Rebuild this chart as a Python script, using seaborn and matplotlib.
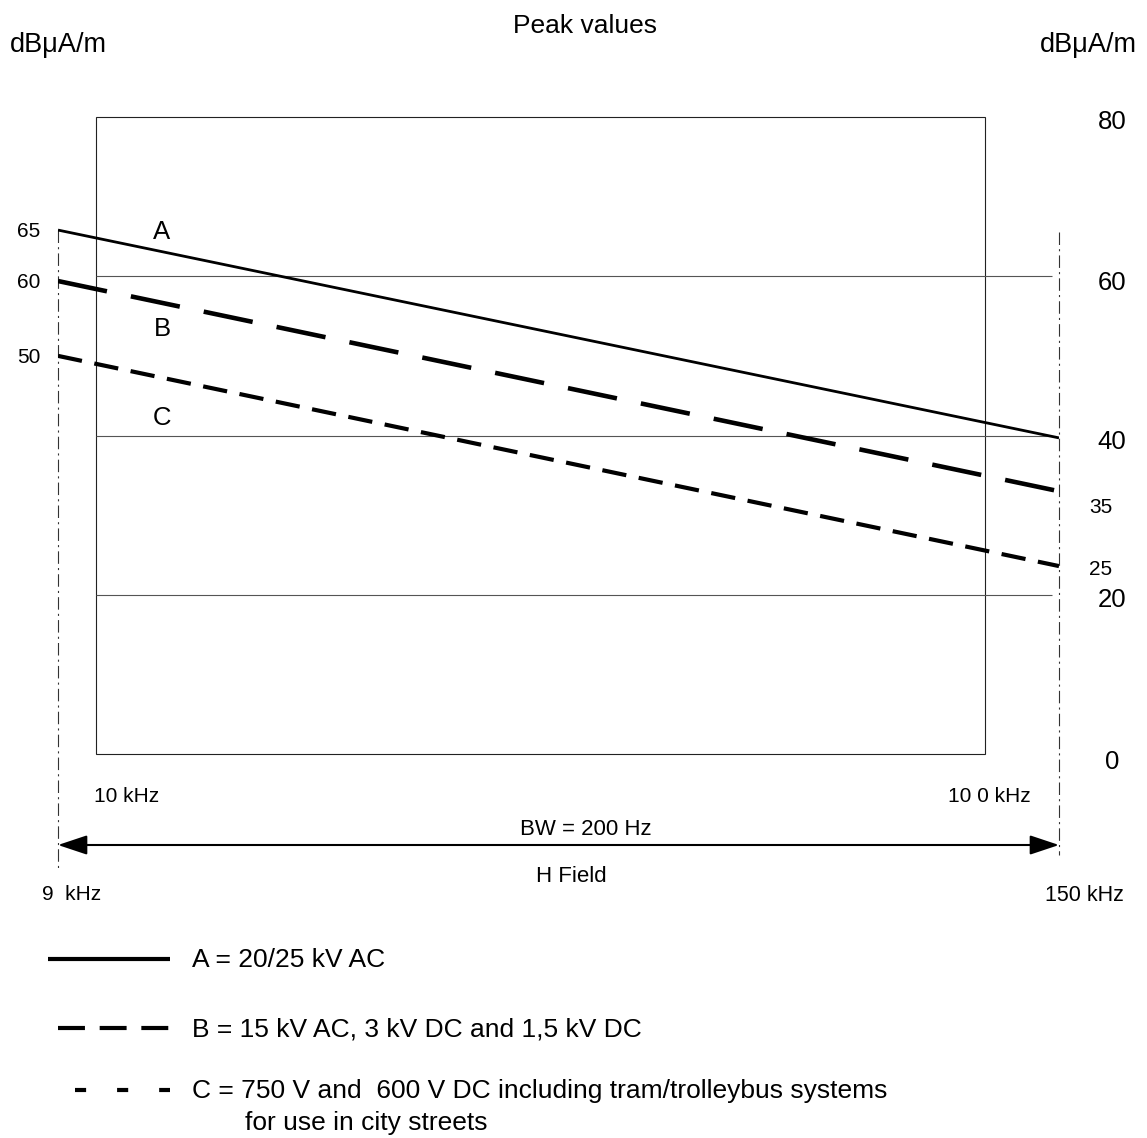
import numpy as np
import pandas as pd
import matplotlib
matplotlib.use("Agg")
import matplotlib.pyplot as plt
import seaborn as sns
from matplotlib.lines import Line2D
from matplotlib.patches import Rectangle, FancyArrowPatch

# ---------------- data ----------------
freq_khz = [9, 150]                 # start / end frequency of the limit lines
line_A = [65.8, 39.7]               # dBuA/m
line_B = [59.4, 33.0]
line_C = [50.0, 23.6]
series_names = ["A", "B", "C"]
box_freq = [10, 100]                # kHz
box_level = [0, 80]                 # dBuA/m
grid_levels = [20, 40, 60]
right_major = [80, 60, 40, 20, 0]
right_minor = ["35", "25"]
left_labels = ["65", "60", "50"]
freq_labels = ["10 kHz", "10 0 kHz", "9  kHz", "150 kHz"]
legend_texts = ["A = 20/25 kV AC",
                "B = 15 kV AC, 3 kV DC and 1,5 kV DC",
                "C = 750 V and  600 V DC including tram/trolleybus systems"]
legend_cont = "for use in city streets"

# ---------------- style ----------------
sns.set_theme(style="white")
plt.rcParams["font.family"] = ["Liberation Sans", "DejaVu Sans"]
plt.rcParams["lines.scale_dashes"] = False

W, H = 1147, 1138
fig = plt.figure(figsize=(W / 100, H / 100), dpi=100)
fig.patch.set_facecolor("white")

# axes region in pixels
L, R, T, B = 58, 1059, 117, 754
ax = fig.add_axes([L / W, 1 - B / H, (R - L) / W, (B - T) / H])

df = pd.DataFrame({
    "freq": freq_khz * 3,
    "level": line_A + line_B + line_C,
    "series": [s for s in series_names for _ in freq_khz],
})
sns.lineplot(data=df, x="freq", y="level", style="series",
             dashes={"A": "", "B": (36, 17.6), "C": (17.6, 9.1)},
             color="black", legend=False, ax=ax, zorder=3)
for ln, lw in zip(ax.lines, [2.0, 3.3, 3.0]):
    ln.set_linewidth(lw)
    ln.set_dash_capstyle("butt")
    ln.set_solid_capstyle("butt")

# non-uniform frequency scale of the original diagram (not to scale)
_lf = np.log10([9, 10, 100, 150])
_u = np.array([0, 38, 927, 1001], float)
_s0 = (_u[1] - _u[0]) / (_lf[1] - _lf[0])
_s1 = (_u[-1] - _u[-2]) / (_lf[-1] - _lf[-2])


def fwd(f):
    lf = np.log10(np.maximum(np.asarray(f, float), 1e-9))
    out = np.interp(lf, _lf, _u)
    out = np.where(lf < _lf[0], _u[0] + (lf - _lf[0]) * _s0, out)
    out = np.where(lf > _lf[-1], _u[-1] + (lf - _lf[-1]) * _s1, out)
    return out


def inv(u):
    u = np.asarray(u, float)
    lf = np.interp(u, _u, _lf)
    lf = np.where(u < _u[0], _lf[0] + (u - _u[0]) / _s0, lf)
    lf = np.where(u > _u[-1], _lf[-1] + (u - _u[-1]) / _s1, lf)
    return 10 ** lf


ax.set_xscale("function", functions=(fwd, inv))
ax.set_xlim(freq_khz[0], freq_khz[1])
ax.set_ylim(box_level[0], box_level[1])
ax.set_axis_off()

# frame box 10 kHz .. 100 kHz
ax.add_patch(Rectangle((box_freq[0], box_level[0]), box_freq[1] - box_freq[0],
                       box_level[1] - box_level[0], fill=False,
                       edgecolor="#222222", lw=0.8, clip_on=False, zorder=1))
# horizontal reference lines
ax.hlines(grid_levels, box_freq[0], 144, colors="#555555", lw=0.8, zorder=1)

# dash-dot verticals at 9 and 150 kHz
ax.plot([freq_khz[0]] * 2, [line_A[0], -14.6], color="#333333", lw=0.8,
        dashes=(9, 3, 1.5, 3), clip_on=False)
ax.plot([freq_khz[1]] * 2, [65.6, -12.7], color="#333333", lw=0.8,
        dashes=(9, 3, 1.5, 3), clip_on=False)

# double arrow
ypx = 845
ydat = (B - ypx) / ((B - T) / 80)
arr = FancyArrowPatch((freq_khz[0], ydat), (freq_khz[1], ydat),
                      arrowstyle="<|-|>,head_length=18,head_width=6",
                      mutation_scale=1, lw=1.5, color="black",
                      shrinkA=0, shrinkB=0, clip_on=False)
ax.add_patch(arr)


# ---------------- texts ----------------
def ftxt(x, y, s, size, ha="left"):
    px = size * 100 / 72
    fig.text(x / W, 1 - (y + 0.358 * px) / H, s, fontsize=size, ha=ha,
             va="baseline", color="black")


ftxt(585, 24, "Peak values", 19, "center")
ftxt(10, 42, "dBμA/m", 19.5, "left")
ftxt(1137, 42, "dBμA/m", 19.5, "right")

for v, y in zip(right_major, [120, 281, 440, 598, 760]):
    ftxt(1112, y, str(v), 18.5, "center")
for s, y in zip(right_minor, [506, 568]):
    ftxt(1101, y, s, 15, "center")
for s, y in zip(left_labels, [230, 281, 356]):
    ftxt(28.5, y, s, 15, "center")
for s, y in zip(series_names, [230, 327, 416]):
    ftxt(162, y, s, 18.5, "center")

ftxt(94, 795, freq_labels[0], 15, "left")
ftxt(1031, 795, freq_labels[1], 15, "right")
ftxt(72, 893, freq_labels[2], 15, "center")
ftxt(1084, 893, freq_labels[3], 15.5, "center")
ftxt(586, 827, "BW = 200 Hz", 16, "center")
ftxt(571, 874, "H Field", 16, "center")

# ---------------- legend ----------------
leg_y = [959, 1028, 1090]
for s, y in zip(legend_texts, leg_y):
    ftxt(192, y - 1, s, 19, "left")
ftxt(245, 1121, legend_cont, 19, "left")

fig.add_artist(Line2D([48 / W, 170 / W], [1 - leg_y[0] / H] * 2,
                      transform=fig.transFigure, color="black", lw=3.0,
                      solid_capstyle="butt"))
fig.add_artist(Line2D([58 / W, 169 / W], [1 - leg_y[1] / H] * 2,
                      transform=fig.transFigure, color="black", lw=3.0,
                      dashes=(19.4, 10.6), dash_capstyle="butt"))
fig.add_artist(Line2D([75 / W, 170 / W], [1 - leg_y[2] / H] * 2,
                      transform=fig.transFigure, color="black", lw=3.0,
                      dashes=(8, 22.3), dash_capstyle="butt"))

fig.savefig("out.png", dpi=100, facecolor="white")
